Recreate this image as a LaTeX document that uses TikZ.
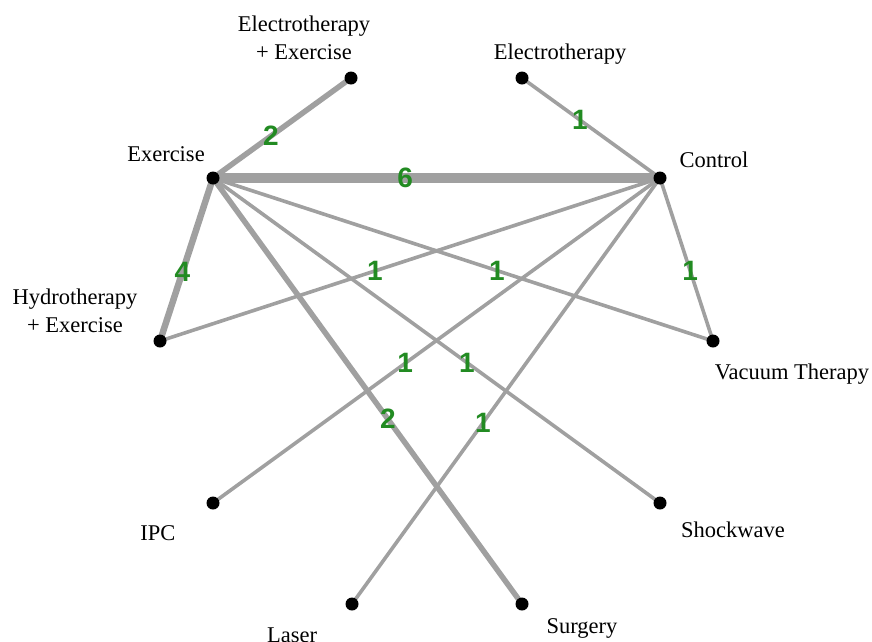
\documentclass[tikz,border=0pt]{standalone}
\usepackage{fontspec}
\setmainfont{Liberation Serif}
\newfontfamily\numfont{Liberation Sans}
\definecolor{edgegray}{RGB}{160,160,160}
\definecolor{numgreen}{RGB}{34,139,34}
\tikzset{
  dot/.style={circle,fill=black,inner sep=0pt,minimum size=13pt},
  lbl/.style={font=\fontsize{22.5}{28}\selectfont,inner sep=0pt,anchor=base,align=center},
  e1/.style={draw=edgegray,line width=3.6pt},
  e2/.style={draw=edgegray,line width=5.5pt},
  e4/.style={draw=edgegray,line width=6.5pt},
  e6/.style={draw=edgegray,line width=9.5pt},
  num/.style={font=\numfont\bfseries\fontsize{28}{28}\selectfont,text=numgreen,inner sep=0pt}
}
\begin{document}
\begin{tikzpicture}[x=1pt,y=-1pt]
\useasboundingbox (0,0) rectangle (872,641);
% node positions
\coordinate (EE) at (351,78);
\coordinate (EL) at (522,78);
\coordinate (EX) at (213,178);
\coordinate (CO) at (660,178);
\coordinate (HY) at (160,341);
\coordinate (VA) at (713,341);
\coordinate (IP) at (213,503);
\coordinate (SH) at (660,503);
\coordinate (LA) at (352,604);
\coordinate (SU) at (522,604);
% edges
\draw[e2] (EX) -- node[num,pos=0.42]{2} (EE);
\draw[e1] (EL) -- node[num,pos=0.42]{1} (CO);
\draw[e6] (EX) -- node[num,pos=0.43]{6} (CO);
\draw[e4] (EX) -- node[num,pos=0.577]{4} (HY);
\draw[e1] (CO) -- node[num,pos=0.57]{1} (HY);
\draw[e1] (EX) -- node[num,pos=0.568]{1} (VA);
\draw[e1] (CO) -- node[num,pos=0.57]{1} (VA);
\draw[e1] (CO) -- node[num,pos=0.57]{1} (IP);
\draw[e1] (EX) -- node[num,pos=0.568]{1} (SH);
\draw[e2] (EX) -- node[num,pos=0.566]{2} (SU);
\draw[e1] (CO) -- node[num,pos=0.575]{1} (LA);
% dots
\foreach \p in {EE,EL,EX,CO,HY,VA,IP,SH,LA,SU} \node[dot] (d\p) at (\p) {};
% labels
\node[lbl] (tEE) at (304,59) {Electrotherapy\\+ Exercise};
\node[lbl] (tEL) at (560,59) {Electrotherapy};
\node[lbl] (tEX) at (166,161) {Exercise};
\node[lbl] (tCO) at (714,167) {Control};
\node[lbl] (tHY) at (75,332) {Hydrotherapy\\+ Exercise};
\node[lbl] (tVA) at (792,379) {Vacuum Therapy};
\node[lbl] (tIP) at (158,540) {IPC};
\node[lbl] (tSH) at (733,537) {Shockwave};
\node[lbl] (tLA) at (292,642) {Laser};
\node[lbl] (tSU) at (582,633) {Surgery};
\end{tikzpicture}
\end{document}
